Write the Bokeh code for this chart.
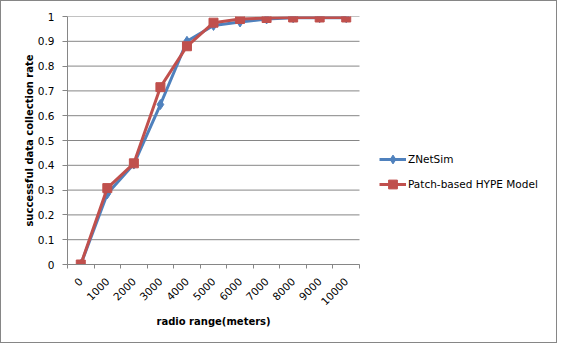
import math
from bokeh.plotting import figure
from bokeh.models import FixedTicker, Legend, LegendItem, Range1d, Title
from bokeh.embed import file_html
from bokeh.resources import INLINE

categories = ["0", "1000", "2000", "3000", "4000", "5000", "6000", "7000", "8000", "9000", "10000"]
znetsim = [0.0, 0.285, 0.405, 0.645, 0.900, 0.964, 0.978, 0.990, 0.995, 0.995, 0.995]
hype = [0.0, 0.308, 0.408, 0.715, 0.880, 0.975, 0.990, 0.994, 0.996, 0.996, 0.996]
y_ticks = [0.0, 0.1, 0.2, 0.3, 0.4, 0.5, 0.6, 0.7, 0.8, 0.9, 1.0]
y_tick_labels = ["0", "0.1", "0.2", "0.3", "0.4", "0.5", "0.6", "0.7", "0.8", "0.9", "1"]

FONT = "DejaVu Sans"
GRID = "#868686"
BLUE = "#4F81BD"
RED = "#C0504D"

n = len(categories)
x = list(range(n))
x_lo, x_hi = -0.5, n - 0.5          # category axis extent

W, H = 557, 343
left, right, top, bottom = 66, 1, 15, 80
plot_w = 292                        # pixel width of the category area
frame_w = W - left - right
x_end = x_lo + (x_hi - x_lo) * frame_w / plot_w

p = figure(width=W, height=H, output_backend="svg", toolbar_location=None,
           x_range=Range1d(x_lo, x_end), y_range=Range1d(0, 1),
           min_border_left=left, min_border_right=right, min_border_top=top, min_border_bottom=bottom)
p.styles = {"border": "1px solid #868686"}
p.outline_line_color = None
p.background_fill_color = "white"
p.border_fill_color = "white"

xa = p.xaxis[0]
xa.bounds = (x_lo, x_hi)
xa.ticker = FixedTicker(ticks=x, minor_ticks=[i - 0.5 for i in range(n + 1)])
xa.major_label_overrides = {i: c for i, c in enumerate(categories)}
xa.major_label_orientation = math.pi / 4
xa.major_tick_out = 0
xa.major_tick_in = 0
xa.minor_tick_out = 4
xa.minor_tick_in = 0
xa.minor_tick_line_color = GRID
xa.axis_line_color = GRID
xa.major_label_text_font = FONT
xa.major_label_text_font_size = "10.5px"
xa.major_label_text_color = "black"
xa.major_label_standoff = 11

# x axis title centred under the category area
x_title = Title(text="radio range(meters)", align="left", offset=89, standoff=4,
                text_font=FONT, text_font_size="10px", text_font_style="bold",
                text_color="black")
p.add_layout(x_title, "below")

ya = p.yaxis[0]
ya.ticker = FixedTicker(ticks=y_ticks, minor_ticks=[])
ya.major_label_overrides = {t: l for t, l in zip(y_ticks, y_tick_labels)}
ya.major_tick_out = 5
ya.major_tick_in = 0
ya.major_tick_line_color = GRID
ya.axis_line_color = GRID
ya.major_label_text_font = FONT
ya.major_label_text_font_size = "10.5px"
ya.major_label_text_color = "black"
ya.major_label_standoff = 8
ya.axis_label = "successful data collection rate"
ya.axis_label_text_font = FONT
ya.axis_label_text_font_size = "10px"
ya.axis_label_text_font_style = "bold"
ya.axis_label_text_color = "black"
ya.axis_label_standoff = 0

p.xgrid.visible = False
p.ygrid.visible = False
# horizontal gridlines limited to the category area
p.segment(x0=[x_lo] * len(y_ticks), x1=[x_hi] * len(y_ticks), y0=y_ticks, y1=y_ticks,
          line_color=GRID, line_width=1)

l1 = p.line(x, znetsim, line_color=BLUE, line_width=3)
s1 = p.scatter(x, znetsim, marker="diamond", size=10, fill_color=BLUE, line_color=BLUE)
l2 = p.line(x, hype, line_color=RED, line_width=3)
s2 = p.scatter(x, hype, marker="square", size=9, fill_color=RED, line_color=RED)

legend = Legend(items=[LegendItem(label="ZNetSim", renderers=[l1, s1]),
                       LegendItem(label="Patch-based HYPE Model", renderers=[l2, s2])],
                location=(312, 69), orientation="vertical")
legend.padding = 0
legend.margin = 0
legend.spacing = 3
legend.glyph_width = 27
legend.glyph_height = 22
legend.label_height = 22
legend.label_standoff = 2
legend.border_line_color = None
legend.background_fill_alpha = 0
legend.label_text_font = FONT
legend.label_text_font_size = "10.5px"
legend.label_text_color = "black"
p.add_layout(legend)

open("out.html", "w").write(file_html(p, INLINE))
